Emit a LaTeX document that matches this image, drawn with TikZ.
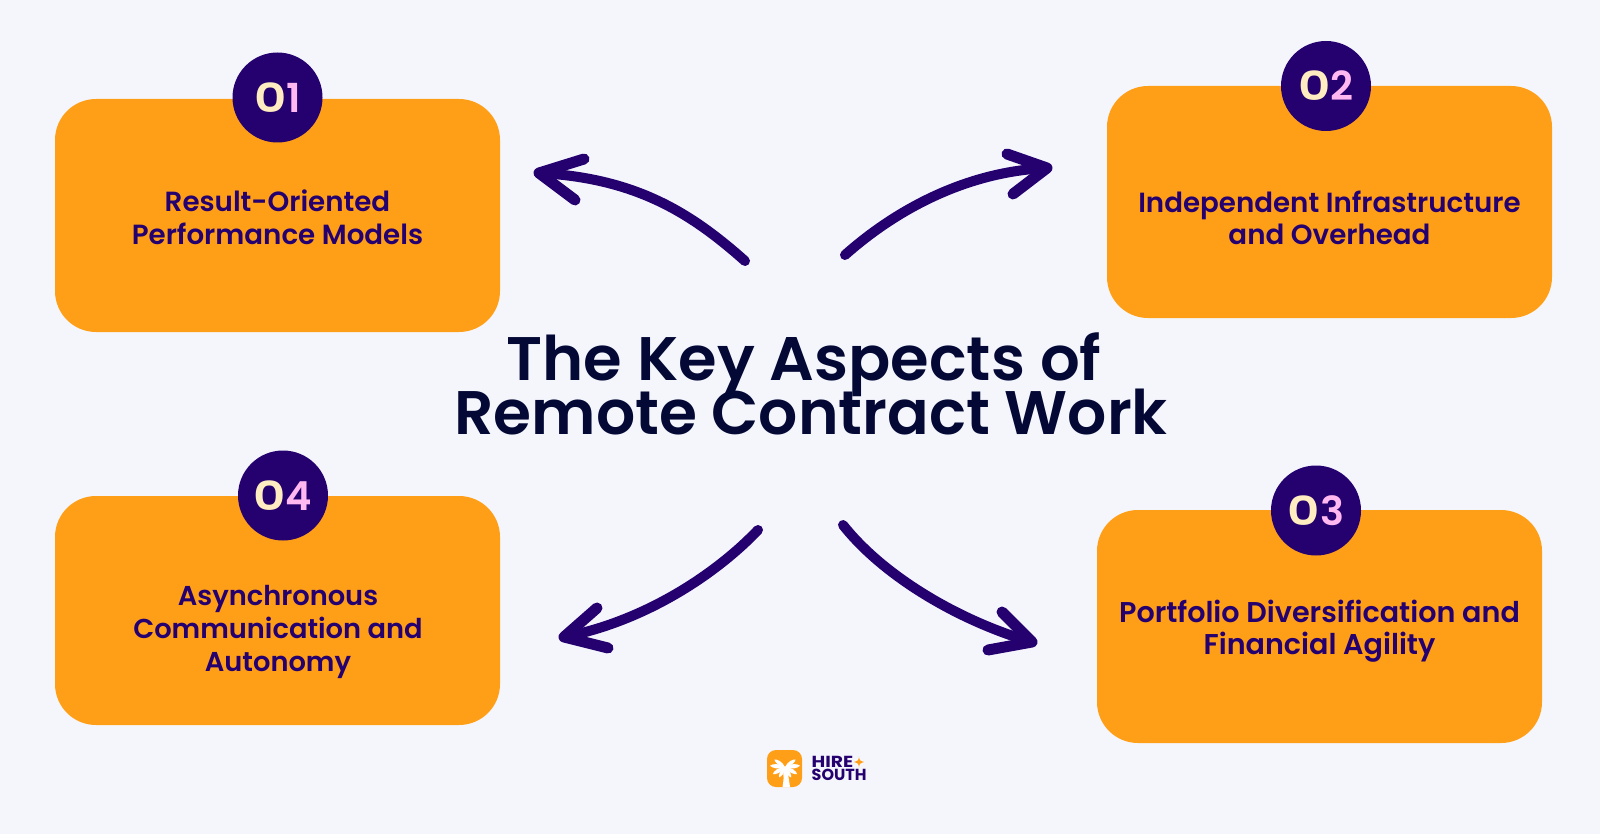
\documentclass[tikz,border=0pt]{standalone}
\usepackage{fontspec}
\setmainfont{Poppins Medium}
\newfontfamily\semi{Poppins SemiBold}
\newfontfamily\boldp{Poppins Bold}
\usetikzlibrary{calc}
\definecolor{bgc}{HTML}{F4F6FC}
\definecolor{orangec}{HTML}{FF9F18}
\definecolor{navy}{HTML}{25006F}
\definecolor{titlec}{HTML}{030835}
\definecolor{dgA}{HTML}{FFECC0}
\definecolor{dgB}{HTML}{FFB8F0}
\newcommand{\tightlines}{\lineskiplimit-100pt\relax}
\tikzset{
 card/.style={fill=orangec,rounded corners=41pt,draw=none},
 badge/.style={circle,fill=navy,minimum size=90pt,inner sep=0pt,font=\semi\fontsize{40}{40}\selectfont},
 cardtext/.style={text=navy,align=center,inner sep=0pt,font=\semi\fontsize{27.7}{32.6}\selectfont\tightlines},
 sweep/.style={draw=navy,line width=10pt,line cap=round,line join=round},
 sweephead/.style={draw=navy,line width=11pt,line cap=round,line join=round},
 logotext/.style={text=navy,anchor=west,inner sep=0pt,font=\boldp\fontsize{16}{16}\selectfont},
 frond/.style={fill=white,draw=none},
}
\newcommand{\dg}[2]{\textcolor{dgA}{\scalebox{1.25}[1]{#1}}\textcolor{dgB}{#2}}
\begin{document}
\begin{tikzpicture}[x=1pt,y=-1pt]
\useasboundingbox (0,0) rectangle (1600,834);
\fill[bgc] (0,0) rectangle (1600,834);
% cards
\fill[card] (55,99) rectangle (500,332);
\fill[card] (1107,86) rectangle (1552,318);
\fill[card] (55,496) rectangle (500,725);
\fill[card] (1097,510) rectangle (1542,743);
% badges
\node[badge] (b1) at (277.5,97.5) {\dg{0}{1}};
\node[badge] (b2) at (1326,86) {\dg{0}{2}};
\node[badge] (b4) at (283,495.5) {\dg{0}{4}};
\node[badge] (b3) at (1316,510.5) {\dg{0}{3}};
% card texts
\node[cardtext] (t1) at (277.5,217.5) {Result-Oriented\\Performance Models};
\node[cardtext] (t2) at (1329.5,218) {Independent Infrastructure\\and Overhead};
\node[cardtext,font=\semi\fontsize{27.3}{32.6}\selectfont\tightlines] (t4) at (278,632) {Asynchronous\\Communication and\\Autonomy};
\node[cardtext,font=\semi\fontsize{28.6}{32.6}\selectfont\tightlines] (t3) at (1319.5,631) {Portfolio Diversification and\\Financial Agility};
% arrows
\coordinate (a1s) at (745,261); \coordinate (a1e) at (539,173);
\coordinate (a2s) at (845,255); \coordinate (a2e) at (1047,168);
\coordinate (a3s) at (843,525); \coordinate (a3e) at (1032,642);
\coordinate (a4s) at (758,530); \coordinate (a4e) at (564,637);
\draw[sweep] (a1s) .. controls (690,212) and (635,178) .. (a1e);
\draw[sweephead] (584,159) -- (a1e) -- (575,200);
\draw[sweep] (a2s) .. controls (890,215) and (960,172) .. (a2e);
\draw[sweephead] (1007,154) -- (a2e) -- (1013,194);
\draw[sweep] (a3s) .. controls (885,578) and (962,622) .. (a3e);
\draw[sweephead] (1002,612) -- (a3e) -- (988,650);
\draw[sweep] (a4s) .. controls (720,570) and (650,620) .. (a4e);
\draw[sweephead] (597,608) -- (a4e) -- (608,648);
% title
\node[text=titlec,align=center,inner sep=0pt,font=\semi\fontsize{61.5}{54}\selectfont\tightlines] (title) at (811,384) {\scalebox{1.015}[1]{The Key Aspects of}\hspace*{14pt}\\Remote Contract Work};
% logo
\fill[orangec,rounded corners=9pt] (767,750) rectangle (802,787);
\coordinate (palm) at (785,767);
\fill[frond] (782.5,787) .. controls (784,778) and (784,772) .. (783.5,767) -- (786.5,767) .. controls (788,773) and (789,780) .. (790,787) -- cycle;
\foreach \a/\l in {-5/15,30/14,60/12,90/12,120/12,150/14,185/15,215/13,-35/13}{
 \fill[frond] (palm) .. controls ($(palm)+(\a+28:\l*.5)$) and ($(palm)+(\a+10:\l*.85)$) .. ($(palm)+(\a:\l)$) .. controls ($(palm)+(\a-10:\l*.85)$) and ($(palm)+(\a-28:\l*.5)$) .. (palm) -- cycle;
}
\node[logotext] (hire) at (811.5,761.5) {\scalebox{1.17}[1]{HIRE}};
\node[logotext] (south) at (811.5,775) {SOUTH};
\fill[orangec] (859,756.5) .. controls (859.5,760.5) .. (864,762) .. controls (859.5,763.5) .. (859,767.5) .. controls (858.5,763.5) .. (854,762) .. controls (858.5,760.5) .. cycle;
\end{tikzpicture}
\end{document}
